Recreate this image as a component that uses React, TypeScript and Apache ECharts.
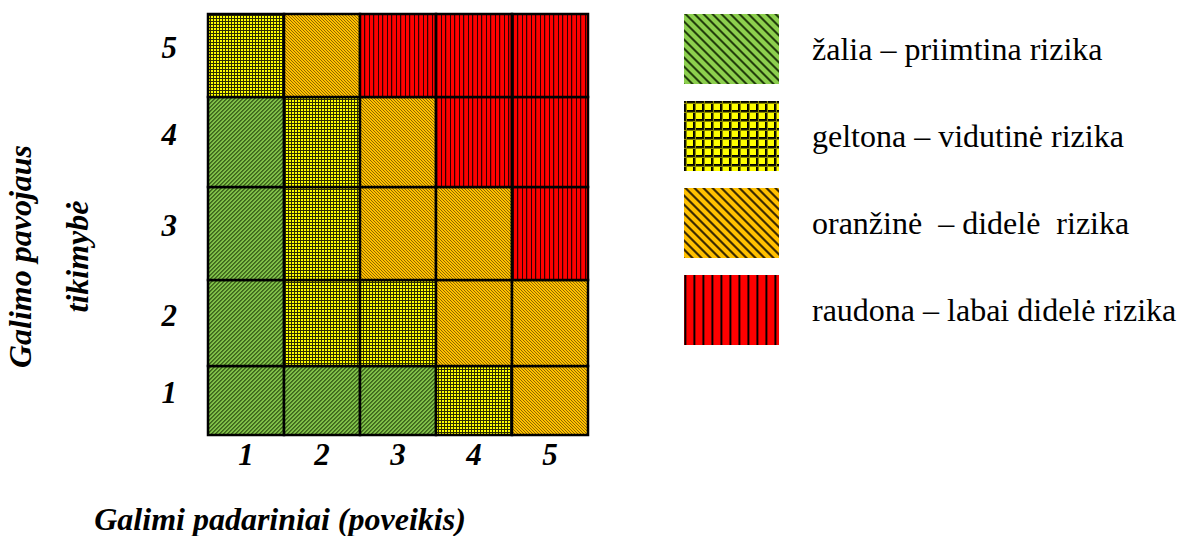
import React, { useEffect, useRef } from 'react';
import * as echarts from 'echarts';

// ---------- data ----------
const consequenceLabels = ['1', '2', '3', '4', '5'];
const likelihoodLabels = ['1', '2', '3', '4', '5'];
const riskNames = [
  'žalia – priimtina rizika',
  'geltona – vidutinė rizika',
  'oranžinė  – didelė  rizika',
  'raudona – labai didelė rizika',
];
// risk level of each cell (0 green, 1 yellow, 2 orange, 3 red), consequence 1..5 left to right
const riskLikelihood1 = [0, 0, 0, 1, 2];
const riskLikelihood2 = [0, 1, 1, 2, 2];
const riskLikelihood3 = [0, 1, 2, 2, 3];
const riskLikelihood4 = [0, 1, 2, 3, 3];
const riskLikelihood5 = [1, 2, 3, 3, 3];
const xTitle = 'Galimi padariniai (poveikis)';
const yTitle = 'Galimo pavojaus\ntikimybė';

// ---------- layout (not data) ----------
const ROW_EDGES = [0, 69, 155, 248, 338, 421]; // unequal row bands, in y-axis units
const Y_LABEL_SHIFT = 8;
const FONT = '"Liberation Serif", "Times New Roman", serif';

type Draw = (ctx: CanvasRenderingContext2D, w: number, h: number) => void;
function tile(w: number, h: number, draw: Draw) {
  const c = document.createElement('canvas');
  c.width = w;
  c.height = h;
  const ctx = c.getContext('2d')!;
  draw(ctx, w, h);
  return { image: c, repeat: 'repeat', imageWidth: w, imageHeight: h } as any;
}
function diagonal(base: string, stripe: string[], size: number, dir: 1 | -1) {
  return tile(size, size, (ctx, w, h) => {
    ctx.fillStyle = base;
    ctx.fillRect(0, 0, w, h);
    for (let y = 0; y < h; y++) {
      for (let k = 0; k < stripe.length; k++) {
        const x = (((dir === 1 ? -y : y) + k) % size + size) % size;
        ctx.fillStyle = stripe[k];
        ctx.fillRect(x, y, 1, 1);
      }
    }
  });
}
function grid(base: string, line: string[], size: number) {
  return tile(size, size, (ctx, w, h) => {
    ctx.fillStyle = base;
    ctx.fillRect(0, 0, w, h);
    line.forEach((col, k) => {
      ctx.fillStyle = col;
      ctx.fillRect(k, 0, 1, h);
      ctx.fillRect(0, k, w, 1);
    });
  });
}
// vertical stripes: map of column index -> colour
function vertical(base: string, cols: Record<number, string>, size: number) {
  return tile(size, 8, (ctx, w, h) => {
    ctx.fillStyle = base;
    ctx.fillRect(0, 0, w, h);
    Object.keys(cols).forEach((k) => {
      ctx.fillStyle = cols[+k];
      ctx.fillRect(+k, 0, 1, h);
    });
  });
}

export default function App() {
  const ref = useRef<HTMLDivElement>(null);
  useEffect(() => {
    if (!ref.current) return;
    const chart = echarts.init(ref.current, null, { renderer: 'svg' });

    const cellPatterns = [
      diagonal('#7fbf48', ['#3d661c', '#4c7826'], 4, 1),
      grid('#ffff00', ['#2e2e00'], 3),
      diagonal('#ffc000', ['#8f6800'], 3, -1),
      vertical('#ff0000', { 0: '#300000', 4: '#300000', 5: '#d00000' }, 9),
    ];
    const legendPatterns = [
      diagonal('#8ccf4e', ['#5a8c2e', '#233f0c', '#233f0c', '#5a8c2e'], 9, -1),
      grid('#ffff00', ['#000000', '#1a1a00', '#8a8a00'], 9),
      diagonal('#ffc000', ['#9a7000', '#3c2c00', '#3c2c00', '#9a7000'], 9, -1),
      vertical('#ff0000', { 0: '#700000', 1: '#000000', 2: '#a00000' }, 9),
    ];

    const rows = [riskLikelihood1, riskLikelihood2, riskLikelihood3, riskLikelihood4, riskLikelihood5];
    const yLabelValues = likelihoodLabels.map((_, i) => (ROW_EDGES[i] + ROW_EDGES[i + 1]) / 2 + Y_LABEL_SHIFT);
    const xLabelValues = consequenceLabels.map((_, i) => i + 0.5);

    const series = riskNames.map((name, level) => {
      const data: number[][] = [];
      rows.forEach((row, r) => row.forEach((lv, c) => { if (lv === level) data.push([c, r]); }));
      return {
        type: 'custom',
        name,
        data,
        coordinateSystem: 'cartesian2d',
        itemStyle: { color: cellPatterns[level] },
        renderItem: (_p: any, api: any) => {
          const c = api.value(0);
          const r = api.value(1);
          const p0 = api.coord([c, ROW_EDGES[r]]);
          const p1 = api.coord([c + 1, ROW_EDGES[r + 1]]);
          return {
            type: 'rect',
            shape: { x: p0[0], y: p1[1], width: p1[0] - p0[0], height: p0[1] - p1[1] },
            style: { fill: cellPatterns[level], stroke: '#000', lineWidth: 2.5 },
          };
        },
      };
    });

    const tickFont = { fontFamily: FONT, fontWeight: 'bold', fontStyle: 'italic', fontSize: 31, color: '#000' };
    const titleFont = { fontFamily: FONT, fontWeight: 'bold', fontStyle: 'italic', fontSize: 32, color: '#000' };

    chart.setOption({
      animation: false,
      grid: { left: 208, top: 14, width: 380, height: 421, containLabel: false, outerBoundsMode: 'none' },
      xAxis: {
        type: 'value', min: 0, max: consequenceLabels.length,
        axisLine: { show: false }, axisTick: { show: false }, splitLine: { show: false },
        axisLabel: {
          ...tickFont, margin: 4,
          customValues: xLabelValues,
          formatter: (v: number) => consequenceLabels[Math.floor(v)] ?? '',
        },
        name: xTitle, nameLocation: 'middle', nameGap: 68,
        nameTextStyle: { ...titleFont, padding: [0, 236, 0, 0] },
      },
      yAxis: {
        type: 'value', min: 0, max: ROW_EDGES[ROW_EDGES.length - 1],
        axisLine: { show: false }, axisTick: { show: false }, splitLine: { show: false },
        axisLabel: {
          ...tickFont, margin: 31,
          customValues: yLabelValues,
          formatter: (v: number) => {
            const i = yLabelValues.findIndex((x) => Math.abs(x - v) < 1);
            return i >= 0 ? likelihoodLabels[i] : '';
          },
        },
        name: yTitle, nameLocation: 'middle', nameGap: 103, nameRotate: 90,
        nameTextStyle: { ...titleFont, lineHeight: 57, padding: [0, 64, 0, 0] },
      },
      legend: {
        orient: 'vertical', left: 684, top: 14, padding: 0,
        itemWidth: 95, itemHeight: 70, itemGap: 17,
        icon: 'rect', selectedMode: false,
        itemStyle: { borderWidth: 0 },
        textStyle: { fontFamily: FONT, fontSize: 32, color: '#000', padding: [0, 0, 0, 28] },
        data: riskNames.map((name, i) => ({ name, itemStyle: { color: legendPatterns[i], borderWidth: 0 } })),
      },
      series,
    });
    return () => chart.dispose();
  }, []);
  return <div ref={ref} style={{ position: 'absolute', left: 0, top: 0, width: 1193, height: 536 }} />;
}
